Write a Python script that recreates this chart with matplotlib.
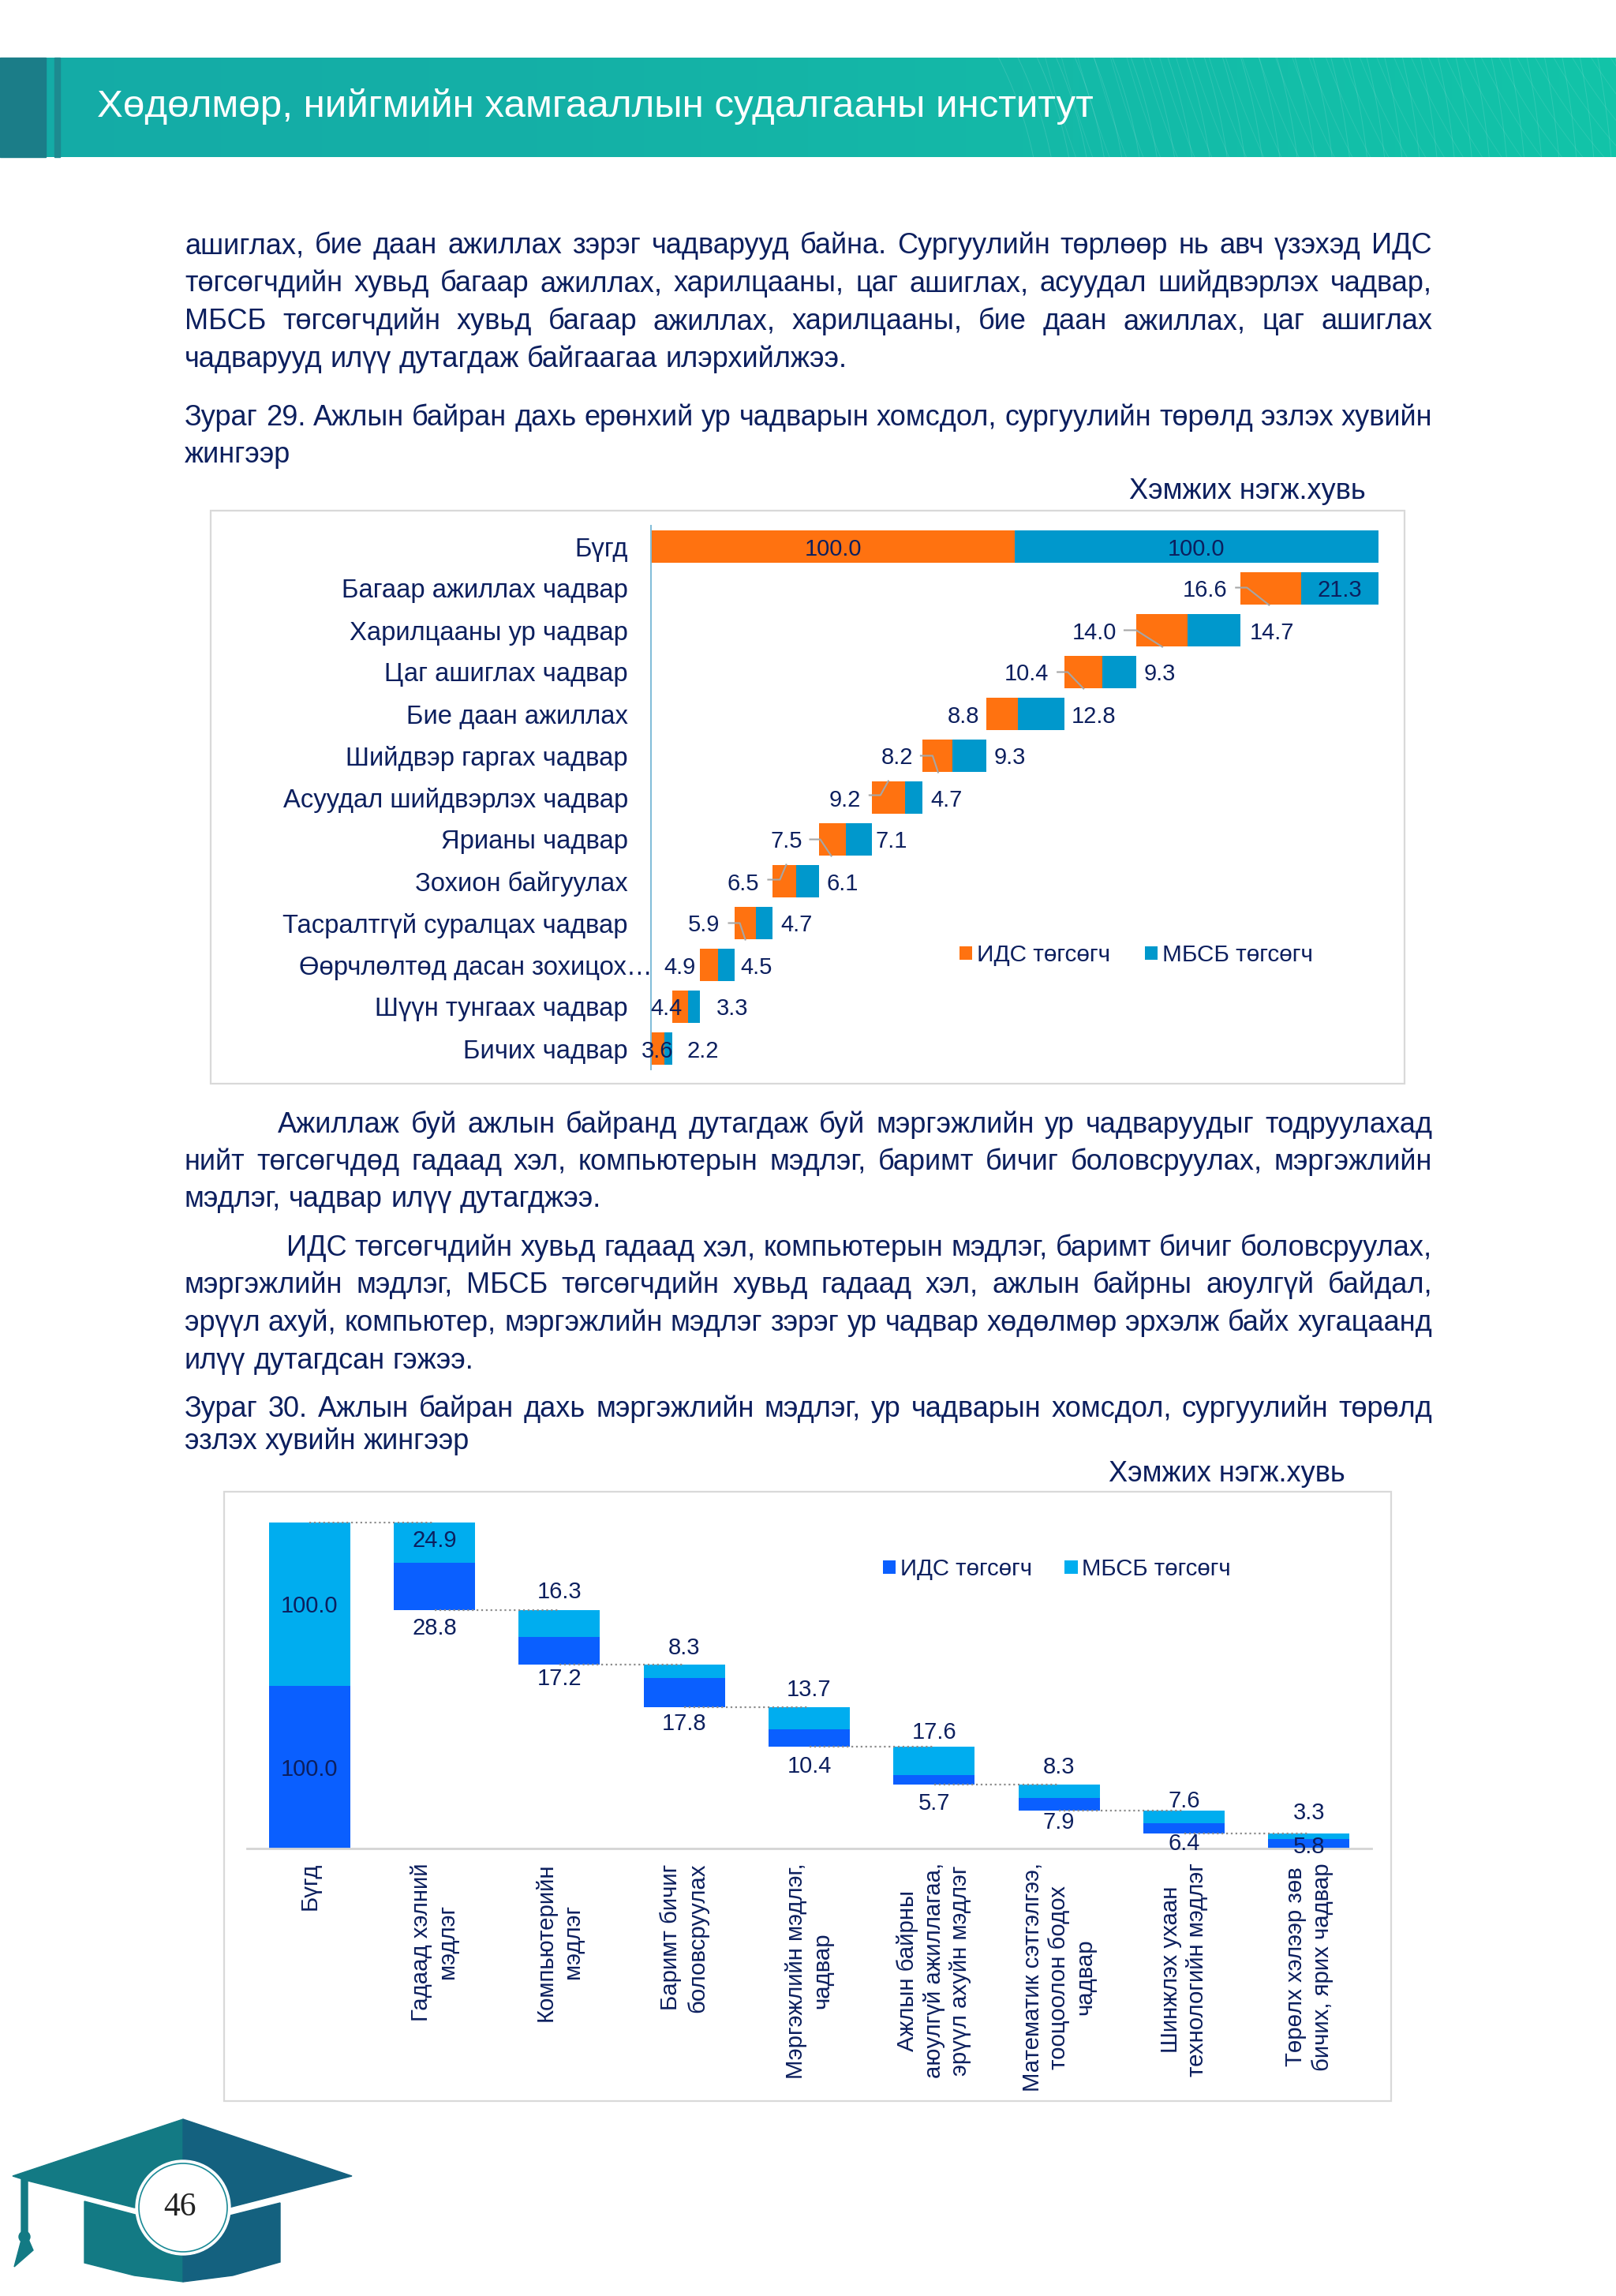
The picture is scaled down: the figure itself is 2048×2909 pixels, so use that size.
import matplotlib
matplotlib.use('Agg')
import matplotlib.pyplot as plt
import numpy as np
from matplotlib.colors import LinearSegmentedColormap
from matplotlib.patches import Polygon, Circle, Rectangle

plt.rcParams['font.family'] = ['Liberation Sans', 'DejaVu Sans']

W, H = 2048, 2909
NAVY = '#0c1f5e'

# chart 1 data
skills = ['Бүгд', 'Багаар ажиллах чадвар', 'Харилцааны ур чадвар', 'Цаг ашиглах чадвар',
          'Бие даан ажиллах', 'Шийдвэр гаргах чадвар', 'Асуудал шийдвэрлэх чадвар',
          'Ярианы чадвар', 'Зохион байгуулах', 'Тасралтгүй суралцах чадвар',
          'Өөрчлөлтөд дасан зохицох…', 'Шүүн тунгаах чадвар', 'Бичих чадвар']
ids_29 = [100.0, 16.6, 14.0, 10.4, 8.8, 8.2, 9.2, 7.5, 6.5, 5.9, 4.9, 4.4, 3.6]
mbsb_29 = [100.0, 21.3, 14.7, 9.3, 12.8, 9.3, 4.7, 7.1, 6.1, 4.7, 4.5, 3.3, 2.2]

# chart 2 data
knowledge = ['Бүгд', 'Гадаад хэлний\nмэдлэг', 'Компьютерийн\nмэдлэг', 'Баримт бичиг\nболовсруулах',
             'Мэргэжлийн мэдлэг,\nчадвар', 'Ажлын байрны\nаюулгүй ажиллагаа,\nэрүүл ахуйн мэдлэг',
             'Математик сэтгэлгээ,\nтооцоолон бодох\nчадвар', 'Шинжлэх ухаан\nтехнологийн мэдлэг',
             'Төрөлх хэлээр зөв\nбичих, ярих чадвар']
ids_30 = [100.0, 28.8, 17.2, 17.8, 10.4, 5.7, 7.9, 6.4, 5.8]
mbsb_30 = [100.0, 24.9, 16.3, 8.3, 13.7, 17.6, 8.3, 7.6, 3.3]

para_top = ['ашиглах, бие даан ажиллах зэрэг чадварууд байна. Сургуулийн төрлөөр нь авч үзэхэд ИДС',
            'төгсөгчдийн хувьд багаар ажиллах, харилцааны, цаг ашиглах, асуудал шийдвэрлэх чадвар,',
            'МБСБ төгсөгчдийн хувьд багаар ажиллах, харилцааны, бие даан ажиллах, цаг ашиглах',
            'чадварууд илүү дутагдаж байгаагаа илэрхийлжээ.']
title_29 = ['Зураг 29. Ажлын байран дахь ерөнхий ур чадварын хомсдол, сургуулийн төрөлд эзлэх хувийн',
            'жингээр']
para_mid = ['Ажиллаж буй ажлын байранд дутагдаж буй мэргэжлийн ур чадваруудыг тодруулахад',
            'нийт төгсөгчдөд гадаад хэл, компьютерын мэдлэг, баримт бичиг боловсруулах, мэргэжлийн',
            'мэдлэг, чадвар илүү дутагджээ.']
para_low = ['ИДС төгсөгчдийн хувьд гадаад хэл, компьютерын мэдлэг, баримт бичиг боловсруулах,',
            'мэргэжлийн мэдлэг, МБСБ төгсөгчдийн хувьд гадаад хэл, ажлын байрны аюулгүй байдал,',
            'эрүүл ахуй, компьютер, мэргэжлийн мэдлэг зэрэг ур чадвар хөдөлмөр эрхэлж байх хугацаанд',
            'илүү дутагдсан гэжээ.']
title_30 = ['Зураг 30. Ажлын байран дахь мэргэжлийн мэдлэг, ур чадварын хомсдол, сургуулийн төрөлд',
            'эзлэх хувийн жингээр']

fig = plt.figure(figsize=(W / 100, H / 100), dpi=100)
page = fig.add_axes([0, 0, 1, 1])
page.axis('off')


def pixel_axes(x0, y0, x1, y1):
    # axes placed by page pixels, y counted from the top
    ax = fig.add_axes([x0 / W, 1 - y1 / H, (x1 - x0) / W, (y1 - y0) / H])
    ax.patch.set_alpha(0)
    return ax


# header band
cmap = LinearSegmentedColormap.from_list('band', ['#15aba6', '#14b0a6', '#14baa8', '#12c4a9'])
page.imshow(np.linspace(0, 1, 256).reshape(1, -1), extent=(0, W, 199, 73), cmap=cmap, aspect='auto', zorder=1)
page.add_patch(Rectangle((0, 73), 58, 126, color='#1b7d88', zorder=2))
page.add_patch(Rectangle((69, 73), 7, 126, color='#1d8a90', zorder=2))
band_clip = Rectangle((0, 73), W, 126, transform=page.transData)

# faint mesh in the band
for c in np.arange(0, 40):
    r = 500 + c * 22
    t = np.linspace(-1.2, 1.2, 200)
    line, = page.plot(820 + r * np.cos(t), 300 + r * np.sin(t), color='white', lw=0.7, alpha=0.13, zorder=2)
    line.set_clip_path(band_clip)
    line, = page.plot(2500 - r * np.cos(t) * 0.9, -300 + r * np.sin(t), color='white', lw=0.7, alpha=0.10, zorder=2)
    line.set_clip_path(band_clip)

page.set_xlim(0, W)
page.set_ylim(H, 0)
page.text(123, 135, 'Хөдөлмөр, нийгмийн хамгааллын судалгааны институт', color='white',
          fontsize=35.5, va='center', zorder=3)

renderer = fig.canvas.get_renderer()
BODY_SIZE = 26


def body_line(line, base, x0=234, x1=1815, justify=True):
    words = line.split(' ')
    items = [page.text(x0, base, w, fontsize=BODY_SIZE, color=NAVY, va='baseline') for w in words]
    widths = [t.get_window_extent(renderer).width for t in items]
    space = BODY_SIZE * 100 / 72 * 0.278
    if justify and len(words) > 1:
        space = (x1 - x0 - sum(widths)) / (len(words) - 1)
    x = x0
    for t, w in zip(items, widths):
        t.set_x(x)
        x += w + space


def block(lines, bases, first_x=234, last_free=True):
    for i, (line, base) in enumerate(zip(lines, bases)):
        free = last_free and i == len(lines) - 1
        body_line(line, base, x0=first_x if i == 0 else 234, justify=not free)


block(para_top, [321, 369, 417, 465])
block(title_29, [539, 586])
block(para_mid, [1435, 1482, 1529], first_x=352)
block(para_low, [1591, 1638, 1686, 1734], first_x=363)
block(title_30, [1795, 1836])
page.text(1431, 632, 'Хэмжих нэгж.хувь', fontsize=BODY_SIZE, color=NAVY, va='baseline')
page.text(1405, 1877, 'Хэмжих нэгж.хувь', fontsize=BODY_SIZE, color=NAVY, va='baseline')

# chart frames
page.add_patch(Rectangle((267, 647), 1513, 726, fill=False, ec='#d9d9d9', lw=1.6))
page.add_patch(Rectangle((284, 1890), 1479, 772, fill=False, ec='#d9d9d9', lw=1.6))

# chart 1: horizontal waterfall
LABEL = 21
ORANGE, BLUE = '#ff7210', '#0098cc'
ax1 = pixel_axes(825, 666, 1747, 1355)
y1 = np.arange(len(skills))
total1 = np.array(ids_29) + np.array(mbsb_29)
left1 = np.concatenate(([0], 200 - np.cumsum(total1[1:])))
ax1.barh(y1, ids_29, left=left1, height=0.79, color=ORANGE, label='ИДС төгсөгч')
ax1.barh(y1, mbsb_29, left=left1 + np.array(ids_29), height=0.79, color=BLUE, label='МБСБ төгсөгч')
ax1.set_xlim(0, 200)
ax1.set_ylim(len(skills) - 0.5, -0.5)
ax1.set_xticks([])
ax1.set_yticks(y1, skills, fontsize=23.6, color=NAVY)
ax1.tick_params(axis='y', length=0, pad=21)
ax1.get_yticklabels()[10].set_x(31 / 922)
for s in ['top', 'right', 'bottom']:
    ax1.spines[s].set_visible(False)
ax1.spines['left'].set_color('#7fbcd8')
ax1.spines['left'].set_linewidth(1.4)

# label gaps in pixels from the bar ends, drop moves labels down a little
orange_gap = [0, 17, 25, 20, 8, 12, 14, 21, 17, 18, 6, -13, -28]
blue_gap = [0, 0, 11, 10, 9, 10, 10, 5, 10, 10, 8, 21, 19]
drop = -3 * 0.72
for i in y1:
    mid = left1[i] + ids_29[i] + mbsb_29[i]
    if i == 0:
        for x, v in [(left1[i] + ids_29[i] / 2, ids_29[i]), (left1[i] + ids_29[i] + mbsb_29[i] / 2, mbsb_29[i])]:
            ax1.annotate(f'{v:.1f}', (x, i), xytext=(0, drop), textcoords='offset points', ha='center', va='center',
                         fontsize=LABEL, color=NAVY)
        continue
    ax1.annotate(f'{ids_29[i]:.1f}', (left1[i], i), xytext=(-orange_gap[i] * 0.72, drop), textcoords='offset points',
                 ha='right', va='center', fontsize=LABEL, color=NAVY, zorder=5)
    if i == 1:
        ax1.annotate(f'{mbsb_29[i]:.1f}', (left1[i] + ids_29[i] + mbsb_29[i] / 2, i), xytext=(0, drop),
                     textcoords='offset points', ha='center', va='center', fontsize=LABEL, color=NAVY)
    else:
        ax1.annotate(f'{mbsb_29[i]:.1f}', (mid, i), xytext=(blue_gap[i] * 0.72, drop), textcoords='offset points',
                     ha='left', va='center', fontsize=LABEL, color=NAVY, zorder=5)

# leader lines: pixel offsets from the orange bar start and row centre
leaders = {1: [(-6, -1), (8, -1), (36, 21)], 2: [(-15, 0), (0, 0), (33, 21)], 3: [(-9, 0), (4, 0), (24, 21)],
           5: [(-2, 0), (13, 0), (20, 21)], 6: [(-3, -3), (11, -3), (21, -21)], 7: [(-11, 0), (2, 0), (16, 21)],
           8: [(-6, -2), (9, -2), (17, -21)], 9: [(-7, 0), (7, 0), (14, 21)]}
for i, pts in leaders.items():
    xs = [left1[i] + p[0] * 200 / 922 for p in pts]
    ys = [i + p[1] / 53 for p in pts]
    ax1.plot(xs, ys, color='#a6a6a6', lw=1.5, zorder=4)

ax1.legend(ncols=2, loc='center left', bbox_to_anchor=((1216 - 825) / 922, 1 - (1210 - 666) / 689), frameon=False,
           fontsize=21.4, labelcolor=NAVY, handlelength=0.55, handleheight=0.55, handletextpad=0.2, columnspacing=1.45,
           borderaxespad=0, borderpad=0)

# chart 2: column waterfall
DARK, LIGHT = '#0a5fff', '#00adef'
ax2 = pixel_axes(313, 1928, 1738, 2342)
x2 = np.arange(len(knowledge))
total2 = np.array(ids_30) + np.array(mbsb_30)
bottom2 = np.concatenate(([0], 200 - np.cumsum(total2[1:])))
ax2.bar(x2, ids_30, bottom=bottom2, width=0.65, color=DARK, label='ИДС төгсөгч')
ax2.bar(x2, mbsb_30, bottom=bottom2 + np.array(ids_30), width=0.65, color=LIGHT, label='МБСБ төгсөгч')
ax2.set_xlim(-0.5, len(knowledge) - 0.5)
ax2.set_ylim(0, 200.5)
ax2.set_yticks([])
ax2.set_xticks(x2, knowledge, fontsize=21.2, color=NAVY, rotation=90, multialignment='center', linespacing=1.25)
ax2.tick_params(axis='x', length=0, pad=13)
for s in ['top', 'right', 'left']:
    ax2.spines[s].set_visible(False)
ax2.spines['bottom'].set_color('#d4d4d4')
ax2.spines['bottom'].set_linewidth(2)

# connectors between neighbouring bars
tops = bottom2 + total2
for i in x2[:-1]:
    ax2.plot([i, i + 1], [tops[i + 1], tops[i + 1]], ls=':', color='#8c8c8c', lw=1.6, zorder=1)

dark_gap = [0, 23, 18, 21, 25, 24, 15, 13, -1.5]
light_gap = [0, 0, 23, 21, 22, 18, 22, 12, 26]
for i in x2:
    if i == 0:
        for y, v in [(ids_30[i] / 2, ids_30[i]), (ids_30[i] + mbsb_30[i] / 2, mbsb_30[i])]:
            ax2.annotate(f'{v:.1f}', (i, y), xytext=(0, drop), textcoords='offset points', ha='center', va='center',
                         fontsize=LABEL, color=NAVY)
        continue
    ax2.annotate(f'{ids_30[i]:.1f}', (i, bottom2[i]), xytext=(0, -dark_gap[i] * 0.72), textcoords='offset points',
                 ha='center', va='center', fontsize=LABEL, color=NAVY, zorder=5)
    shift = 23 if i == 1 else -light_gap[i]
    ax2.annotate(f'{mbsb_30[i]:.1f}', (i, tops[i]), xytext=(0, -shift * 0.72), textcoords='offset points',
                 ha='center', va='center', fontsize=LABEL, color=NAVY, zorder=5)

ax2.legend(ncols=2, loc='center left', bbox_to_anchor=((1119 - 313) / 1425, 1 - (1988 - 1928) / 414), frameon=False,
           fontsize=21.2, labelcolor=NAVY, handlelength=0.55, handleheight=0.55, handletextpad=0.2, columnspacing=1.4,
           borderaxespad=0, borderpad=0)

# graduation cap with page number
TEAL, SEA = '#137a84', '#14617f'
page.add_patch(Polygon([(16, 2757), (232, 2685), (232, 2800), (170, 2797), (35, 2763)], color=TEAL))
page.add_patch(Polygon([(232, 2685), (446, 2757), (290, 2797), (232, 2800)], color=SEA))
page.add_patch(Polygon([(107, 2789), (232, 2822), (232, 2891), (170, 2883), (107, 2867)], color=TEAL))
page.add_patch(Polygon([(232, 2822), (355, 2791), (355, 2866), (295, 2883), (232, 2891)], color=SEA))
page.add_patch(Polygon([(27, 2760), (35, 2760), (35, 2835), (42, 2851), (18, 2872), (27, 2838)], color=TEAL))
page.add_patch(Circle((31, 2834), 7, color=TEAL))
page.add_patch(Circle((232, 2797), 60, fc='white', ec='white', zorder=3))
page.add_patch(Circle((232, 2797), 56, fc='white', ec='#1a8a96', lw=1.2, zorder=3))
page.text(228, 2797, '46', family='Liberation Serif', fontsize=30, color='#222222', ha='center', va='center', zorder=4)

fig.savefig('out.png', dpi=100)
